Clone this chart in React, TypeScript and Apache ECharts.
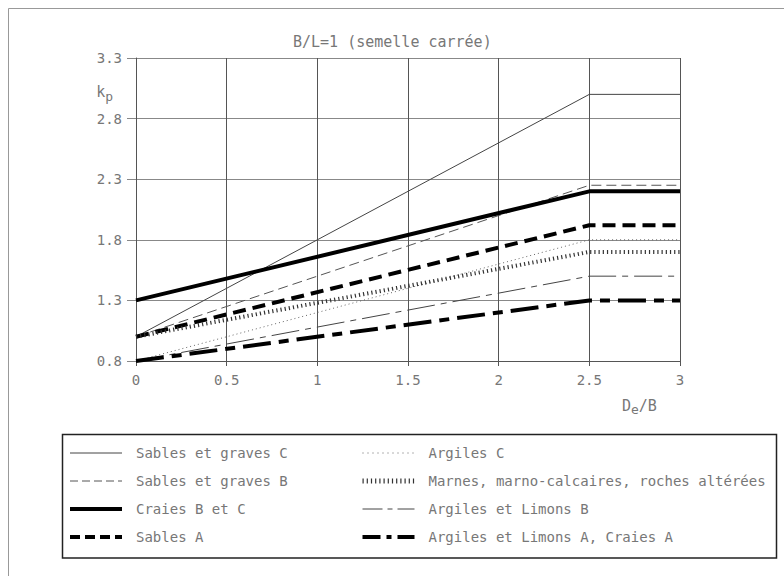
import React, { useEffect, useRef } from "react";
import * as echarts from "echarts";

const xPoints = [0, 2.5, 3];
const seriesNames = [
  "Sables et graves C",
  "Sables et graves B",
  "Craies B et C",
  "Sables A",
  "Argiles C",
  "Marnes, marno-calcaires, roches altérées",
  "Argiles et Limons B",
  "Argiles et Limons A, Craies A",
];
const sablesC = [1.0, 3.0, 3.0];
const sablesB = [1.0, 2.25, 2.25];
const craiesBC = [1.3, 2.2, 2.2];
const sablesA = [1.0, 1.92, 1.92];
const argilesC = [0.8, 1.8, 1.8];
const marnes = [1.0, 1.7, 1.7];
const argilesB = [0.8, 1.5, 1.5];
const argilesA = [0.8, 1.3, 1.3];
const allValues = [sablesC, sablesB, craiesBC, sablesA, argilesC, marnes, argilesB, argilesA];

const FONT = "DejaVu Sans Mono";
const TXT = "#777";

const styles: any[] = [
  { width: 1, type: "solid", color: "#444", legendType: "solid", legendWidth: 1 },
  { width: 1, type: [10, 5], color: "#555", legendType: [8, 4], legendWidth: 1 },
  { width: 4, type: "solid", color: "#000", legendType: "solid", legendWidth: 4 },
  { width: 4, type: [13, 7], color: "#000", legendType: [10, 5], legendWidth: 4 },
  { width: 1, type: [1, 3], color: "#666", legendType: [1, 4], legendWidth: 1 },
  { width: 4, type: [1.2, 3], color: "#333", legendType: [1.2, 3], legendWidth: 5 },
  { width: 1, type: [28, 6, 6, 6], color: "#444", legendType: [20, 5, 5, 5], legendWidth: 1 },
  { width: 4, type: [28, 8, 10, 8], color: "#000", legendType: [18, 6, 5, 6], legendWidth: 4 },
];

export default function App() {
  const ref = useRef<HTMLDivElement>(null);
  useEffect(() => {
    if (!ref.current) return;
    const chart = echarts.init(ref.current, null, { renderer: "svg" });
    const series = seriesNames.map((name, i) => ({
      name,
      type: "line",
      symbol: "none",
      data: xPoints.map((x, j) => [x, allValues[i][j]]),
      lineStyle: { width: styles[i].width, type: styles[i].type, color: styles[i].color },
      itemStyle: { color: styles[i].color },
      z: 3,
    }));
    const legendData = (idx: number[]) =>
      idx.map((i) => ({
        name: seriesNames[i],
        itemStyle: { opacity: 0 },
        lineStyle: { width: styles[i].legendWidth, type: styles[i].legendType, color: styles[i].color, opacity: 1 },
      }));
    const legendCommon = {
      orient: "vertical",
      top: 446,
      itemWidth: 52,
      itemHeight: 14,
      itemGap: 14,
      padding: 0,
      selectedMode: false,
      itemStyle: { opacity: 0 },
      textStyle: { fontFamily: FONT, fontSize: 14, color: TXT, padding: [0, 0, 0, 9] },
    };
    chart.setOption({
      animation: false,
      backgroundColor: "#fff",
      title: {
        text: "B/L=1 (semelle carrée)",
        left: 293,
        top: 34,
        padding: 0,
        textStyle: { fontFamily: FONT, fontSize: 15, fontWeight: "normal", color: TXT },
      },
      grid: { left: 136, right: 104, top: 58, bottom: 215 },
      xAxis: {
        type: "value",
        min: 0,
        max: 3,
        interval: 0.5,
        name: "{d|D}{e|e}{d|/B}",
        nameLocation: "end",
        nameGap: -58,
        nameTextStyle: {
          align: "left",
          verticalAlign: "top",
          padding: [34, 0, 0, 0],
          rich: {
            d: { fontFamily: FONT, fontSize: 15, color: TXT },
            e: { fontFamily: FONT, fontSize: 13, color: TXT, padding: [8, 0, 0, 0] },
          },
        },
        axisLine: { lineStyle: { color: "#555", width: 1 } },
        axisTick: { show: true, length: 5, lineStyle: { color: "#555" } },
        axisLabel: { fontFamily: FONT, fontSize: 14, color: TXT, margin: 12 },
        splitLine: { show: true, lineStyle: { color: "#555", width: 1 } },
      },
      yAxis: {
        type: "value",
        min: 0.8,
        max: 3.3,
        interval: 0.5,
        name: "{k|k}{p|p}",
        nameLocation: "end",
        nameGap: -34,
        nameTextStyle: {
          align: "right",
          verticalAlign: "middle",
          padding: [0, 23, 0, 0],
          rich: {
            k: { fontFamily: FONT, fontSize: 15, color: TXT },
            p: { fontFamily: FONT, fontSize: 13, color: TXT, padding: [8, 0, 0, 0] },
          },
        },
        axisLine: { show: true, lineStyle: { color: "#555", width: 1 } },
        axisTick: { show: true, length: 9, lineStyle: { color: "#888" } },
        axisLabel: { fontFamily: FONT, fontSize: 14, color: TXT, margin: 14, formatter: (v: number) => v.toFixed(1) },
        splitLine: { show: true, lineStyle: { color: "#888", width: 1 } },
      },
      legend: [
        { ...legendCommon, left: 68, data: legendData([0, 1, 2, 3]) },
        { ...legendCommon, left: 360, data: legendData([4, 5, 6, 7]) },
      ],
      graphic: [
        {
          type: "rect",
          silent: true,
          shape: { x: 8.5, y: 8.5, width: 800, height: 600 },
          style: { fill: "none", stroke: "#999", lineWidth: 1 },
        },
        {
          type: "rect",
          silent: true,
          shape: { x: 62.5, y: 434.5, width: 714, height: 123.5 },
          style: { fill: "none", stroke: "#222", lineWidth: 1.5 },
        },
      ],
      series,
    });
    return () => chart.dispose();
  }, []);
  return (
    <div
      ref={ref}
      style={{ position: "absolute", left: 0, top: 0, width: 784, height: 576 }}
    />
  );
}
